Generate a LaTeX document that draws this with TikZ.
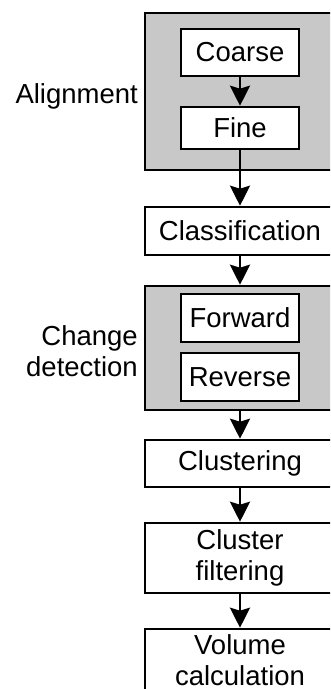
\documentclass[tikz,border=0pt]{standalone}
\usepackage{fontspec}
\setmainfont{Liberation Sans}
\usetikzlibrary{arrows.meta}
\definecolor{panelgray}{RGB}{200,200,200}
\begin{document}
\begin{tikzpicture}[x=1pt,y=-1pt,
  txt/.style={font=\fontsize{27.5}{31}\selectfont},
  box/.style={txt, draw=black, line width=2.6pt, fill=white, inner sep=0pt, align=center},
  innerbox/.style={box, minimum width=118pt},
  outerbox/.style={box, minimum width=190pt},
  panel/.style={draw=black, line width=2.6pt, fill=panelgray, inner sep=0pt, minimum width=190pt},
  lab/.style={txt, inner sep=0pt, align=right},
  flow/.style={line width=2.6pt, -{Stealth[length=20pt,width=20pt,inset=3pt]}}
]
\clip (0,0) rectangle (330,689);
\fill[white] (0,0) rectangle (330,689);

% panels
\node[panel, minimum height=157pt] (align) at (240,91.5) {};
\node[panel, minimum height=124pt] (cd) at (240,348) {};

% inner boxes
\node[innerbox, minimum height=47pt] (coarse) at (240,52.5) {Coarse};
\node[innerbox, minimum height=42pt] (fine) at (240,128) {Fine};
\node[innerbox, minimum height=48pt] (fwd) at (240,318) {Forward};
\node[innerbox, minimum height=48pt] (rev) at (240,377) {Reverse};

% main boxes
\node[outerbox, minimum height=48pt] (class) at (240,231) {Classification};
\node[outerbox, minimum height=47pt] (clus) at (240,463.5) {Clustering};
\node[outerbox, minimum height=70pt] (cfilt) at (240,558) {Cluster\\filtering};
\node[outerbox, minimum height=62pt] (vol) at (240,660) {Volume\\calculation};

% labels
\node[lab, anchor=base east] (alab) at (138,103) {Alignment};
\node[lab, anchor=east] (clab) at (138,351) {Change\\detection};

% connectors
\draw[flow] (coarse) -- (fine);
\draw[flow] (fine) -- (class);
\draw[flow] (class) -- (cd);
\draw[flow] (cd) -- (clus);
\draw[flow] (clus) -- (cfilt);
\draw[flow] (cfilt) -- (vol);
\end{tikzpicture}
\end{document}
